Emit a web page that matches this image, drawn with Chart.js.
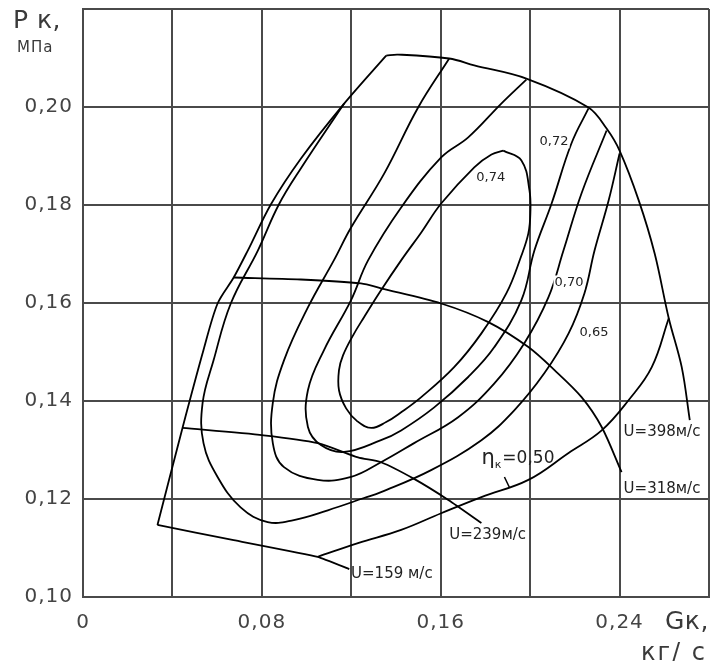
<!DOCTYPE html>
<html><head><meta charset="utf-8">
<script src="https://cdn.jsdelivr.net/npm/chart.js@4"></script>
<style>html,body{margin:0;padding:0;background:#fff}</style>
</head><body>
<canvas id="c" width="716" height="661"></canvas>
<script>
// ---- tick labels ----
const xTickLabels = ['0', '', '0,08', '', '0,16', '', '0,24', ''];
const yTickLabels = ['0,10', '0,12', '0,14', '0,16', '0,18', '0,20', ''];

// ---- boundary lines (Gk kg/s, Pk MPa) ----
const surgeLine = [[0.0333,0.1147],[0.0445,0.1345],[0.0539,0.1504],[0.0602,0.1599],[0.0674,0.1652],[0.0737,0.1707],[0.0840,0.1801],[0.0975,0.1895],[0.1168,0.2007],[0.1356,0.2105]];
const speed398 = [[0.1356,0.2105],[0.1409,0.2107],[0.1638,0.2099],[0.1750,0.2085],[0.1983,0.2058],[0.2261,0.1999],[0.2342,0.1956],[0.2400,0.1911],[0.2486,0.1809],[0.2557,0.1701],[0.2620,0.1569],[0.2678,0.1469],[0.2714,0.1361]];
const speed318 = [[0.0674,0.1652],[0.0974,0.1648],[0.1243,0.1640],[0.1333,0.1630],[0.1602,0.1599],[0.1813,0.1561],[0.1992,0.1510],[0.2109,0.1463],[0.2230,0.1408],[0.2320,0.1347],[0.2409,0.1255]];
const speed239 = [[0.0445,0.1345],[0.0808,0.1330],[0.1050,0.1314],[0.1230,0.1285],[0.1333,0.1275],[0.1481,0.1241],[0.1634,0.1198],[0.1782,0.1151]];
const speed159 = [[0.0333,0.1147],[0.0674,0.1116],[0.1050,0.1082],[0.1191,0.1057]];

// ---- efficiency contours ----
const eff050 = [[0.1050,0.1082],[0.1230,0.1110],[0.1423,0.1137],[0.1602,0.1171],[0.1782,0.1204],[0.1992,0.1239],[0.2172,0.1294],[0.2320,0.1340],[0.2441,0.1402],[0.2544,0.1469],[0.2620,0.1569]];
const eff065 = [[0.1168,0.2007],[0.0975,0.1875],[0.0876,0.1801],[0.0782,0.1707],[0.0661,0.1599],[0.0584,0.1483],[0.0535,0.1396],[0.0539,0.1314],[0.0602,0.1245],[0.0705,0.1183],[0.0826,0.1153],[0.0943,0.1157],[0.1095,0.1177],[0.1257,0.1202],[0.1333,0.1214],[0.1557,0.1259],[0.1782,0.1320],[0.1929,0.1381],[0.2064,0.1457],[0.2172,0.1538],[0.2243,0.1620],[0.2288,0.1707],[0.2351,0.1809],[0.2400,0.1905]];
const eff070 = [[0.1638,0.2099],[0.1499,0.1999],[0.1347,0.1864],[0.1199,0.1754],[0.1122,0.1687],[0.1006,0.1591],[0.0899,0.1483],[0.0849,0.1396],[0.0849,0.1314],[0.0899,0.1265],[0.1050,0.1239],[0.1199,0.1245],[0.1333,0.1275],[0.1481,0.1314],[0.1678,0.1367],[0.1840,0.1436],[0.1974,0.1518],[0.2082,0.1612],[0.2149,0.1707],[0.2230,0.1824],[0.2342,0.1952]];
const eff072 = [[0.1983,0.2056],[0.1871,0.2007],[0.1723,0.1938],[0.1602,0.1897],[0.1423,0.1795],[0.1275,0.1687],[0.1199,0.1606],[0.1078,0.1504],[0.1006,0.1422],[0.1006,0.1347],[0.1064,0.1310],[0.1168,0.1296],[0.1333,0.1320],[0.1423,0.1340],[0.1571,0.1387],[0.1723,0.1449],[0.1840,0.1510],[0.1961,0.1606],[0.2019,0.1707],[0.2096,0.1803],[0.2185,0.1926],[0.2261,0.1997]];
const eff074 = [[0.1880,0.1911],[0.1961,0.1891],[0.1997,0.1830],[0.2001,0.1783],[0.1992,0.1742],[0.1961,0.1697],[0.1894,0.1620],[0.1782,0.1538],[0.1660,0.1469],[0.1513,0.1408],[0.1423,0.1377],[0.1356,0.1357],[0.1289,0.1345],[0.1226,0.1359],[0.1177,0.1385],[0.1145,0.1422],[0.1145,0.1463],[0.1163,0.1493],[0.1208,0.1534],[0.1257,0.1571],[0.1333,0.1626],[0.1423,0.1687],[0.1513,0.1744],[0.1602,0.1803],[0.1750,0.1877],[0.1827,0.1903],[0.1880,0.1911]];

// ---- in-plot labels (text + anchor in data units) ----
const curveLabelTexts = ['0,74', '0,72', '0,70', '0,65', 'U=398м/с', 'U=318м/с', 'U=239м/с', 'U=159 м/с'];
const curveLabelAnchors = [[0.1759,0.1856],[0.2042,0.1930],[0.2109,0.1642],[0.2221,0.1540],[0.2418,0.1336],[0.2418,0.1220],[0.1638,0.1126],[0.1199,0.1047]];
const etaLabelAnchor = [0.1782, 0.1283];
const etaLeader = [[0.1885,0.1245],[0.1907,0.1224]];

const toPts = a => a.map(p => ({x: p[0], y: p[1]}));
const lineDs = (arr, t) => ({data: toPts(arr), showLine: true, borderColor: '#000', borderWidth: 1.8, pointRadius: 0, tension: t, fill: false});

const spacingPlugin = {
  id: 'spacing',
  beforeDraw(chart) { chart.ctx.letterSpacing = '1px'; }
};

const labelsPlugin = {
  id: 'labels',
  afterDatasetsDraw(chart) {
    const ctx = chart.ctx, xs = chart.scales.x, ys = chart.scales.y, ca = chart.chartArea;
    ctx.save();
    ctx.fillStyle = '#222';
    ctx.textBaseline = 'middle';
    ctx.textAlign = 'left';
    ctx.letterSpacing = '0px';
    curveLabelTexts.forEach((t, i) => {
      const a = curveLabelAnchors[i];
      ctx.font = (i < 4 ? '13px' : '15px') + ' "DejaVu Sans"';
      if (i < 4) { ctx.fillStyle = '#fff'; const w = ctx.measureText(t).width; ctx.fillRect(xs.getPixelForValue(a[0]) - 1, ys.getPixelForValue(a[1]) - 7, w + 2, 14); ctx.fillStyle = '#222'; }
      ctx.fillText(t, xs.getPixelForValue(a[0]), ys.getPixelForValue(a[1]));
    });
    // eta label
    let px = xs.getPixelForValue(etaLabelAnchor[0]), py = ys.getPixelForValue(etaLabelAnchor[1]);
    ctx.font = '21px "DejaVu Sans"';
    ctx.fillText('η', px, py);
    px += ctx.measureText('η').width;
    ctx.font = '11px "DejaVu Sans"';
    ctx.fillText('к', px, py + 7);
    px += ctx.measureText('к').width + 1;
    ctx.font = '17px "DejaVu Sans"';
    ctx.fillText('=0,50', px, py);
    // leader tick
    ctx.strokeStyle = '#000'; ctx.lineWidth = 1.5;
    ctx.beginPath();
    ctx.moveTo(xs.getPixelForValue(etaLeader[0][0]), ys.getPixelForValue(etaLeader[0][1]));
    ctx.lineTo(xs.getPixelForValue(etaLeader[1][0]), ys.getPixelForValue(etaLeader[1][1]));
    ctx.stroke();
    // axis titles
    ctx.fillStyle = '#3a3a3a';
    ctx.font = '25px "DejaVu Sans"';
    ctx.letterSpacing = '0.5px';
    ctx.fillText('Р к,', ca.left - 70, 21);
    ctx.font = '15px "DejaVu Sans"';
    ctx.letterSpacing = '1px';
    ctx.fillText('МПа', ca.left - 66, 48);
    ctx.font = '25px "DejaVu Sans"';
    ctx.letterSpacing = '0.5px';
    ctx.fillText('Gк,', ca.right - 44, ca.bottom + 25);
    ctx.font = '24px "DejaVu Sans"';
    ctx.letterSpacing = '2px';
    ctx.fillText('кг/ с', ca.right - 68, ca.bottom + 57);
    ctx.restore();
  }
};

new Chart(document.getElementById('c'), {
  type: 'scatter',
  data: {
    datasets: [
      lineDs(surgeLine, 0.3), lineDs(speed398, 0.35), lineDs(speed318, 0.3),
      lineDs(speed239, 0.25), lineDs(speed159, 0.1),
      lineDs(eff050, 0.4), lineDs(eff065, 0.4), lineDs(eff070, 0.4), lineDs(eff072, 0.4), lineDs(eff074, 0.4)
    ]
  },
  options: {
    responsive: false,
    animation: false,
    layout: {padding: {left: 0, right: 7, top: 9, bottom: 0}},
    plugins: {legend: {display: false}, tooltip: {enabled: false}},
    scales: {
      x: {
        type: 'linear', min: 0, max: 0.28,
        afterFit: s => { s.height = 64; s.paddingLeft = 0; s.paddingRight = 0; },
        border: {color: '#4a4a4a', width: 2},
        grid: {color: '#4a4a4a', lineWidth: 2, drawTicks: false},
        ticks: {stepSize: 0.04, autoSkip: false, maxRotation: 0, padding: 14, color: '#444',
          font: {family: 'DejaVu Sans', size: 20},
          callback: v => xTickLabels[Math.round(v / 0.04)] ?? ''}
      },
      y: {
        type: 'linear', min: 0.10, max: 0.22,
        afterFit: s => { s.width = 83; s.paddingTop = 0; s.paddingBottom = 0; },
        border: {color: '#4a4a4a', width: 2},
        grid: {color: '#4a4a4a', lineWidth: 2, drawTicks: false},
        ticks: {stepSize: 0.02, autoSkip: false, padding: 10, color: '#444',
          font: {family: 'DejaVu Sans', size: 20},
          callback: v => yTickLabels[Math.round((v - 0.10) / 0.02)] ?? ''}
      }
    }
  },
  plugins: [spacingPlugin, labelsPlugin]
});
</script>
</body></html>
